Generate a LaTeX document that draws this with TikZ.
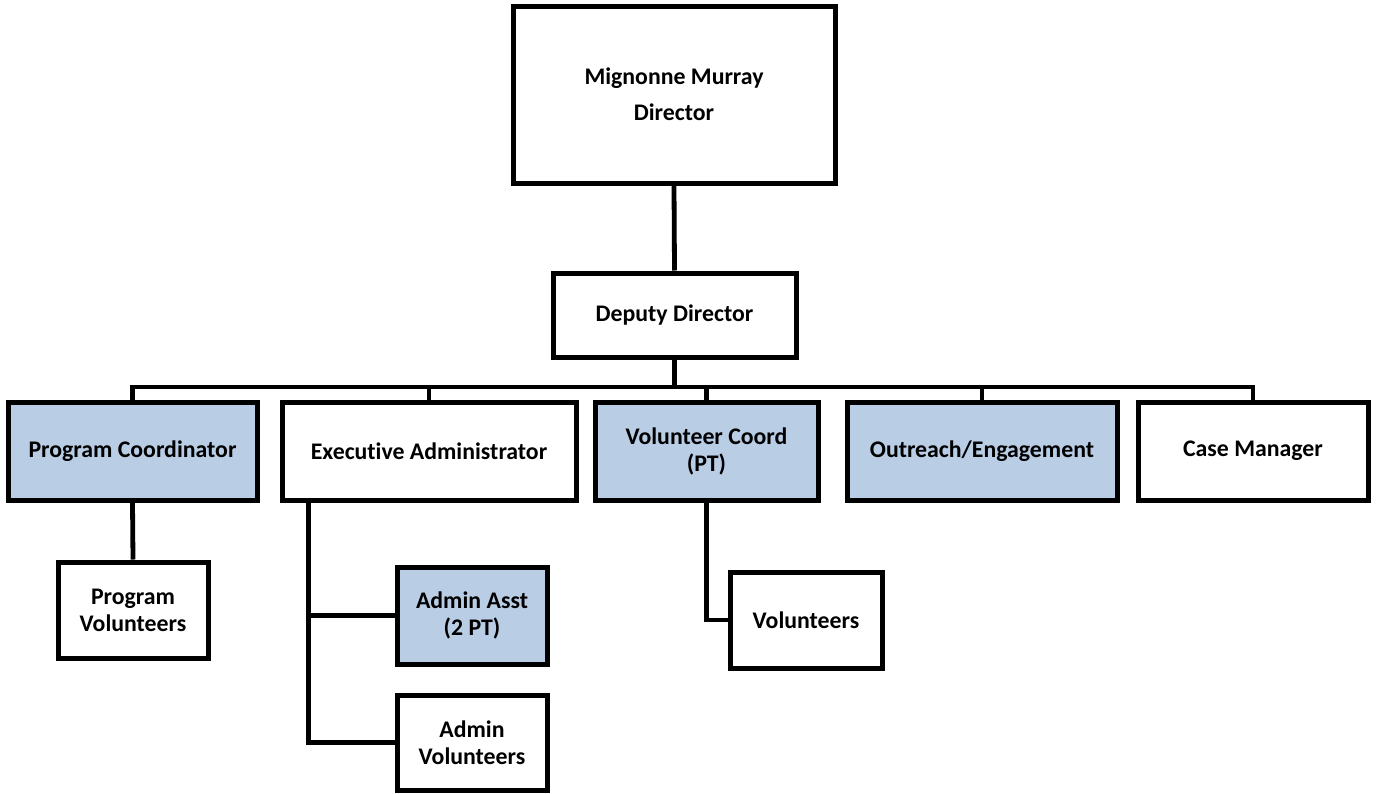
\documentclass[tikz,border=0pt]{standalone}
\usepackage{fontspec}
\setmainfont{Carlito}[Ligatures=NoCommon]
\usepackage{tikz}
\usetikzlibrary{calc}
\definecolor{roleblue}{HTML}{B9CDE5}

\begin{document}
\begin{tikzpicture}[
  x=0.5pt, y=-0.5pt,
  every node/.style={font=\bfseries\fontsize{11.9}{13.5}\selectfont},
  box/.style={draw=black, line width=2.5pt, fill=white, rectangle, align=center, inner sep=0pt},
  bluebox/.style={box, fill=roleblue},
  link/.style={draw=black, line width=2.4pt},
]
\useasboundingbox (0,0) rectangle (1376,793);

% Director and deputy
\node[box, minimum width=161pt, minimum height=88.5pt] (dir) at (674,94.5)
  {Mignonne Murray\\[4.5pt]Director};
\node[box, minimum width=121.5pt, minimum height=42pt] (dep) at (674.5,315) {Deputy Director};

% Second row
\node[bluebox, minimum width=124.5pt, minimum height=49pt] (pc) at (132.5,451) {Program Coordinator};
\node[box, minimum width=147pt, minimum height=49pt] (ea) at (429,451) {Executive Administrator};
\node[bluebox, minimum width=111.5pt, minimum height=49pt] (vc) at (706.5,451) {Volunteer Coord\\(PT)};
\node[bluebox, minimum width=135pt, minimum height=49pt] (oe) at (982,451) {Outreach/Engagement};
\node[box, minimum width=115pt, minimum height=49pt] (cm) at (1253,451) {Case Manager};

% Third row
\node[box, minimum width=75pt, minimum height=48pt] (pv) at (133,610) {Program\\Volunteers};
\node[bluebox, minimum width=75pt, minimum height=48.5pt] (aa) at (472,615.5) {Admin Asst\\(2 PT)};
\node[box, minimum width=75pt, minimum height=47.5pt] (av) at (472,742.5) {Admin\\Volunteers};
\node[box, minimum width=76pt, minimum height=48pt] (vol) at (806,620) {Volunteers};

% Connectors
\coordinate (bus) at (0,387);
\coordinate (spine) at ($(ea.south west)+(29,0)$);
\draw[link] (dir.south) -- (dep.north);
\draw[link] (dep.south) -- (dep.south |- bus);
\draw[link, line cap=rect] (pc.north |- bus) -- (cm.north |- bus);
\foreach \n in {pc,ea,vc,oe,cm}
  \draw[link] (\n.north) -- (\n.north |- bus);
\draw[link] (pc.south) -- (pv.north);
\draw[link] (spine) |- (aa.west);
\draw[link] (spine) |- (av.west);
\draw[link] (vc.south) |- (vol.west);

\end{tikzpicture}
\end{document}
